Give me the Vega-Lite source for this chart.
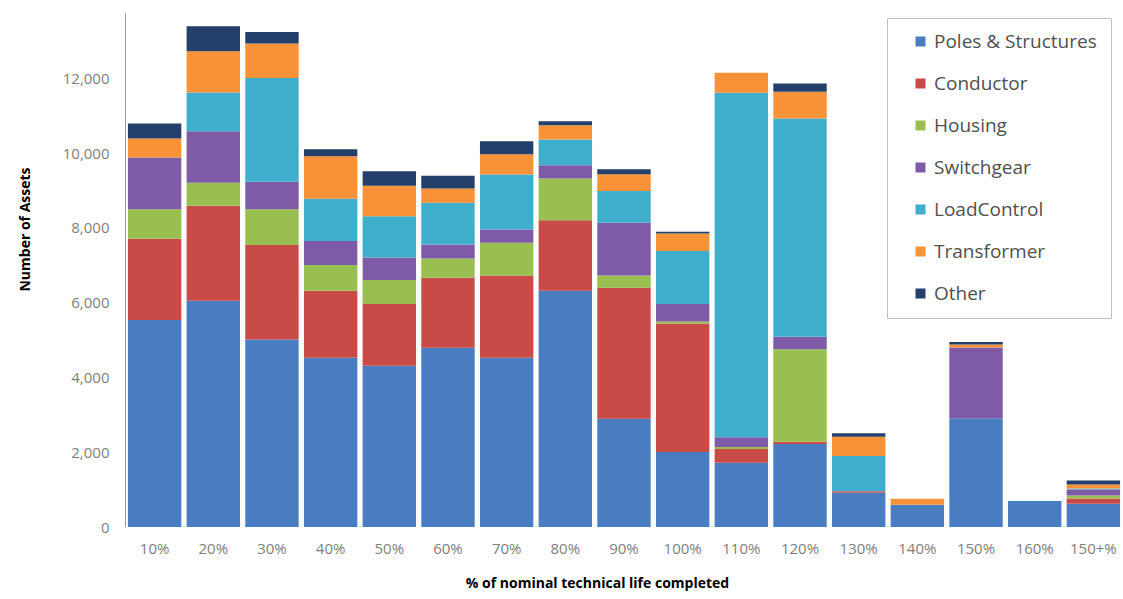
{
  "$schema": "https://vega.github.io/schema/vega-lite/v6.json",
  "width": 998,
  "height": 514,
  "autosize": "none",
  "padding": {"left": 125, "top": 13, "right": 0, "bottom": 72},
  "background": "white",
  "config": {
    "view": {"stroke": null},
    "font": "Open Sans"
  },
  "data": {
    "values": [
      {"life": "10%", "Poles & Structures": 5535, "Conductor": 2174, "Housing": 794, "Switchgear": 1383, "LoadControl": 0, "Transformer": 508, "Other": 401},
      {"life": "20%", "Poles & Structures": 6051, "Conductor": 2541, "Housing": 615, "Switchgear": 1382, "LoadControl": 1035, "Transformer": 1104, "Other": 669},
      {"life": "30%", "Poles & Structures": 5019, "Conductor": 2522, "Housing": 962, "Switchgear": 731, "LoadControl": 2780, "Transformer": 919, "Other": 312},
      {"life": "40%", "Poles & Structures": 4527, "Conductor": 1792, "Housing": 687, "Switchgear": 642, "LoadControl": 1131, "Transformer": 1142, "Other": 187},
      {"life": "50%", "Poles & Structures": 4313, "Conductor": 1650, "Housing": 642, "Switchgear": 607, "LoadControl": 1104, "Transformer": 811, "Other": 392},
      {"life": "60%", "Poles & Structures": 4794, "Conductor": 1872, "Housing": 519, "Switchgear": 374, "LoadControl": 1113, "Transformer": 385, "Other": 337},
      {"life": "70%", "Poles & Structures": 4527, "Conductor": 2204, "Housing": 871, "Switchgear": 359, "LoadControl": 1470, "Transformer": 543, "Other": 348},
      {"life": "80%", "Poles & Structures": 6319, "Conductor": 1890, "Housing": 1115, "Switchgear": 356, "LoadControl": 686, "Transformer": 383, "Other": 107},
      {"life": "90%", "Poles & Structures": 2896, "Conductor": 3503, "Housing": 332, "Switchgear": 1406, "LoadControl": 848, "Transformer": 454, "Other": 134},
      {"life": "100%", "Poles & Structures": 2006, "Conductor": 3441, "Housing": 53, "Switchgear": 463, "LoadControl": 1417, "Transformer": 473, "Other": 43},
      {"life": "110%", "Poles & Structures": 1719, "Conductor": 370, "Housing": 50, "Switchgear": 260, "LoadControl": 9215, "Transformer": 535, "Other": 0},
      {"life": "120%", "Poles & Structures": 2219, "Conductor": 62, "Housing": 2471, "Switchgear": 337, "LoadControl": 5839, "Transformer": 713, "Other": 224},
      {"life": "130%", "Poles & Structures": 915, "Conductor": 40, "Housing": 0, "Switchgear": 0, "LoadControl": 944, "Transformer": 516, "Other": 90},
      {"life": "140%", "Poles & Structures": 597, "Conductor": 0, "Housing": 0, "Switchgear": 0, "LoadControl": 0, "Transformer": 160, "Other": 0},
      {"life": "150%", "Poles & Structures": 2907, "Conductor": 0, "Housing": 0, "Switchgear": 1898, "LoadControl": 0, "Transformer": 80, "Other": 62},
      {"life": "160%", "Poles & Structures": 695, "Conductor": 0, "Housing": 0, "Switchgear": 0, "LoadControl": 0, "Transformer": 0, "Other": 0},
      {"life": "150+%", "Poles & Structures": 620, "Conductor": 140, "Housing": 80, "Switchgear": 160, "LoadControl": 30, "Transformer": 107, "Other": 107}
    ]
  },
  "transform": [
    {"fold": ["Poles & Structures", "Conductor", "Housing", "Switchgear", "LoadControl", "Transformer", "Other"], "as": ["asset", "count"]},
    {"calculate": "indexof(['Poles & Structures','Conductor','Housing','Switchgear','LoadControl','Transformer','Other'], datum.asset)", "as": "rank"}
  ],
  "mark": {"type": "bar"},
  "encoding": {
    "x": {
      "field": "life",
      "type": "nominal",
      "sort": null,
      "scale": {"paddingInner": 0.09, "paddingOuter": 0.05},
      "axis": {
        "title": "% of nominal technical life completed",
        "titleFont": "Open Sans",
        "titleFontSize": 14,
        "titleFontWeight": "bold",
        "titleColor": "#000000",
        "titleX": 472,
        "titlePadding": 20,
        "labelAngle": 0,
        "labelFontSize": 15,
        "labelColor": "#7f7f7f",
        "labelPadding": 14,
        "domain": false,
        "ticks": false
      }
    },
    "y": {
      "field": "count",
      "type": "quantitative",
      "stack": "zero",
      "scale": {"domain": [0, 13750], "nice": false},
      "axis": {
        "title": "Number of Assets",
        "titleFont": "Open Sans",
        "titleFontSize": 14,
        "titleFontWeight": "bold",
        "titleColor": "#000000",
        "titleY": 216,
        "titlePadding": 30,
        "values": [0, 2000, 4000, 6000, 8000, 10000, 12000],
        "format": ",.0f",
        "labelFontSize": 15,
        "labelColor": "#7f7f7f",
        "labelPadding": 16,
        "grid": false,
        "ticks": false,
        "domain": true,
        "domainColor": "#9a9a9a",
        "domainWidth": 1
      }
    },
    "color": {
      "field": "asset",
      "type": "nominal",
      "scale": {
        "domain": ["Poles & Structures", "Conductor", "Housing", "Switchgear", "LoadControl", "Transformer", "Other"],
        "range": ["#4a7cc2", "#c84b47", "#98bf4f", "#7f5aa6", "#3fadcc", "#f79239", "#233f6a"]
      },
      "legend": {
        "title": null,
        "orient": "none",
        "legendX": 762,
        "legendY": 5,
        "padding": 14,
        "symbolType": "square",
        "symbolSize": 100,
        "symbolOffset": 10,
        "symbolStrokeWidth": 0,
        "labelFontSize": 19,
        "labelLimit": 260,
        "labelColor": "#505050",
        "labelOffset": 4,
        "rowPadding": 22,
        "strokeColor": "#bfbfbf",
        "fillColor": "white"
      }
    },
    "order": {"field": "rank", "type": "quantitative", "sort": "ascending"}
  }
}
